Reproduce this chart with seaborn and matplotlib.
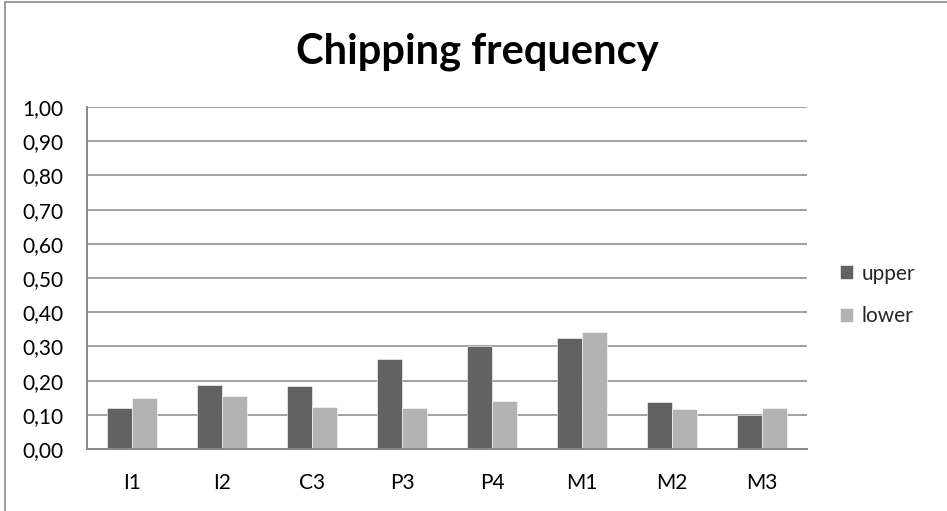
import matplotlib
matplotlib.use("Agg")
import matplotlib.pyplot as plt
from matplotlib.lines import Line2D
import pandas as pd
import seaborn as sns

# Chipping frequency per tooth, upper vs lower jaw
teeth = ["I1", "I2", "C3", "P3", "P4", "M1", "M2", "M3"]
upper = [0.121, 0.187, 0.184, 0.262, 0.301, 0.325, 0.138, 0.100]
lower = [0.149, 0.155, 0.124, 0.121, 0.140, 0.343, 0.117, 0.121]
series = ["upper", "lower"]
y_ticks = [0.0, 0.1, 0.2, 0.3, 0.4, 0.5, 0.6, 0.7, 0.8, 0.9, 1.0]
y_tick_labels = ["0,00", "0,10", "0,20", "0,30", "0,40", "0,50",
                 "0,60", "0,70", "0,80", "0,90", "1,00"]
title = "Chipping frequency"

df = pd.DataFrame({
    "tooth": teeth * 2,
    "jaw": ["upper"] * len(teeth) + ["lower"] * len(teeth),
    "freq": upper + lower,
})

sns.set_theme(style="white")
plt.rcParams["font.family"] = ["Lato", "DejaVu Sans"]

W, H = 947, 511
fig = plt.figure(figsize=(W / 100, H / 100), dpi=100)
ax = fig.add_axes([87 / W, 1 - 449 / H, 720 / W, 342 / H])

grid_col = "#878787"
palette = {"upper": "#626262", "lower": "#b3b3b3"}

ax.set_axisbelow(True)
for t in y_ticks[1:]:
    ax.axhline(t, color=grid_col, lw=1.1, zorder=0)

sns.barplot(data=df, x="tooth", y="freq", hue="jaw", hue_order=series,
            order=teeth, palette=palette, width=0.556, saturation=1,
            edgecolor="white", linewidth=0.4, errorbar=None, ax=ax, zorder=2)

ax.set_ylim(0, 1.0)
ax.set_xlim(-0.5, len(teeth) - 0.5)
ax.set_yticks(y_ticks)
ax.set_yticklabels(y_tick_labels)
ax.set_xlabel("")
ax.set_ylabel("")
ax.tick_params(axis="both", length=0, labelsize=15, colors="black")
ax.tick_params(axis="y", pad=17)
ax.tick_params(axis="x", pad=17)

for side in ["top", "right"]:
    ax.spines[side].set_visible(False)
for side in ["left", "bottom"]:
    ax.spines[side].set_color(grid_col)
    ax.spines[side].set_linewidth(1.4)

handles, labels = ax.get_legend_handles_labels()
ax.legend(handles, labels, loc="center left",
          bbox_to_anchor=(840 / W, 1 - 295 / H), bbox_transform=fig.transFigure,
          frameon=False, fontsize=15, handlelength=0.62, handleheight=0.62,
          handletextpad=0.4, labelspacing=1.1, borderpad=0, borderaxespad=0)

fig.text(477 / W, 1 - 63 / H, title, ha="center", va="baseline",
         fontsize=30, fontweight="bold", color="black")

# chart frame (left and top edges)
fig.add_artist(Line2D([4.5 / W, 4.5 / W], [0, 1 - 2 / H], transform=fig.transFigure,
                      color="#8c8c8c", lw=1.2))
fig.add_artist(Line2D([4.5 / W, 1], [1 - 2 / H, 1 - 2 / H], transform=fig.transFigure,
                      color="#8c8c8c", lw=1.2))

fig.savefig("out.png", dpi=100, facecolor="white")
